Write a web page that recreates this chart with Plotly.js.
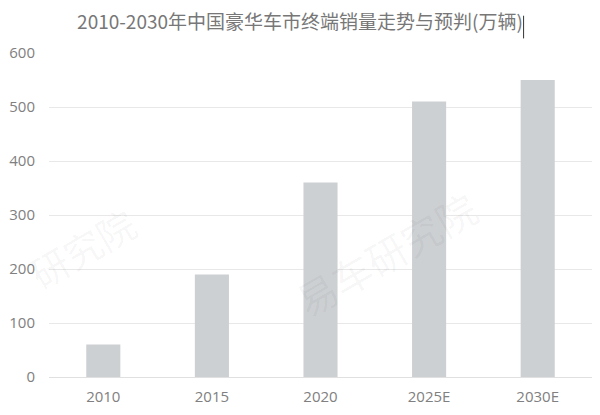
<!DOCTYPE html>
<html><head><meta charset="utf-8">
<script src="https://cdn.plot.ly/plotly-3.0.1.min.js"></script>
<style>html,body{margin:0;padding:0;background:#fff}#chart{width:600px;height:415px}</style>
</head><body><div id="chart"></div>
<script>
const categories = ['2010', '2015', '2020', '2025E', '2030E'];
const sales = [60, 190, 360, 510, 550];
const yTicks = [0, 100, 200, 300, 400, 500, 600];
const titleText = '2010-2030年中国豪华车市终端销量走势与预判(万辆)';
const watermark = '易车研究院';

const data = [{
  type: 'bar',
  x: categories,
  y: sales,
  marker: {color: '#cdd0d3'},
  hoverinfo: 'none'
}];

const layout = {
  width: 600, height: 415,
  margin: {l: 49, r: 8, t: 53, b: 38},
  paper_bgcolor: '#fff', plot_bgcolor: '#fff',
  bargap: 0.686,
  showlegend: false,
  font: {family: '"Open Sans", "Noto Sans CJK SC", sans-serif', color: '#808080', size: 15},
  title: {
    text: titleText,
    font: {family: '"Noto Sans CJK SC", sans-serif', size: 19, color: '#777777'},
    x: 0.5, xanchor: 'center', y: 0.945, yanchor: 'middle'
  },
  xaxis: {
    type: 'category',
    showgrid: false, showline: false, zeroline: false,
    ticks: '', ticklen: 0,
    ticklabelstandoff: 9,
    tickfont: {size: 15, color: '#808080'}
  },
  yaxis: {
    range: [0, 600],
    tickvals: yTicks,
    showgrid: true, gridcolor: '#e8e8e8', gridwidth: 1,
    zeroline: true, zerolinecolor: '#e0e0e0', zerolinewidth: 1,
    showline: false, ticks: '',
    ticklabelstandoff: 13,
    tickfont: {size: 15, color: '#808080'}
  },
  annotations: [
    {text: '研究院', xref: 'paper', yref: 'paper', x: -0.06, y: 0.4, showarrow: false,
     textangle: -30, font: {family: '"Noto Sans CJK SC", sans-serif', size: 38, color: 'rgba(0,0,0,0.04)'}},
    {text: watermark, xref: 'paper', yref: 'paper', x: 0.62, y: 0.38, showarrow: false,
     textangle: -30, font: {family: '"Noto Sans CJK SC", sans-serif', size: 40, color: 'rgba(0,0,0,0.04)'}}
  ],
  shapes: [
    {type: 'line', xref: 'paper', yref: 'paper', x0: 0.874, x1: 0.874, y0: 1.045, y1: 1.115,
     line: {color: '#333', width: 1}}
  ]
};

Plotly.newPlot('chart', data, layout, {displayModeBar: false, staticPlot: true});
</script>
</body></html>
